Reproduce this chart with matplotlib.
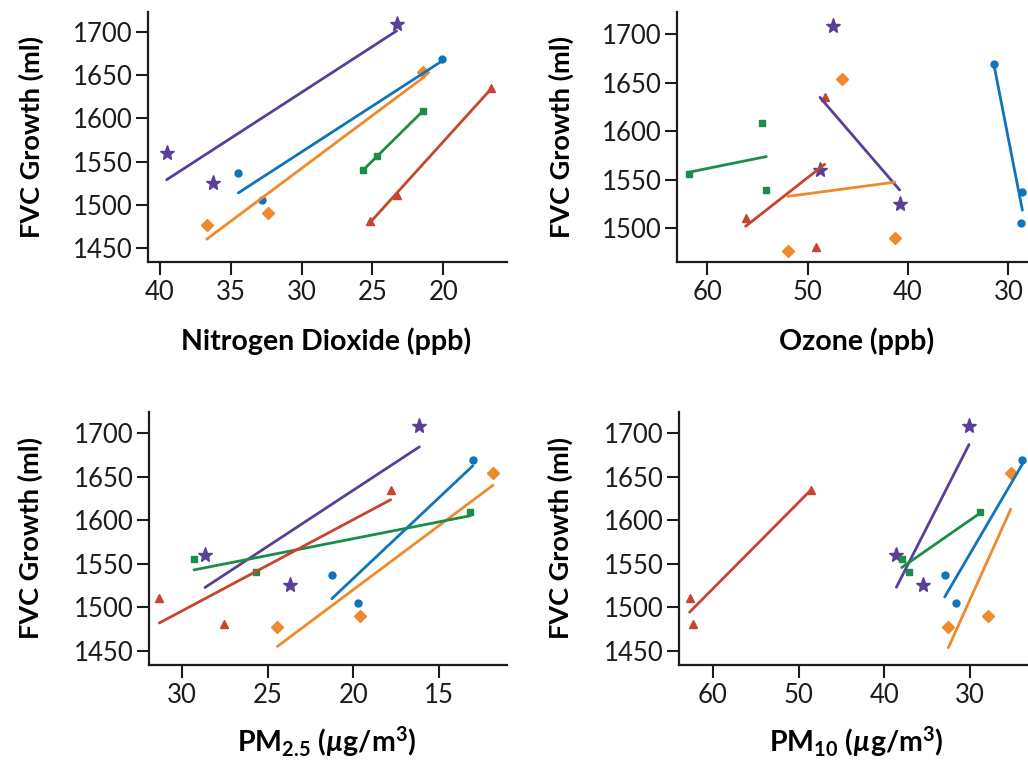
import numpy as np
import matplotlib
matplotlib.use("Agg")
import matplotlib.pyplot as plt

# ---------------- data ----------------
# FVC growth (ml) for the three cohorts of each community
fvc_purple = [1560, 1525, 1709]
fvc_blue = [1537, 1505, 1669]
fvc_orange = [1477, 1490, 1654]
fvc_green = [1556, 1540, 1609]
fvc_red = [1481, 1511, 1635]

# pollutant levels per community (same cohort order as above)
no2_purple = [39.53, 36.24, 23.3]
no2_blue = [34.47, 32.82, 20.12]
no2_orange = [36.7, 32.35, 21.4]
no2_green = [24.7, 25.65, 21.4]
no2_red = [25.18, 23.3, 16.6]

o3_purple = [48.77, 40.83, 47.48]
o3_blue = [28.6, 28.7, 31.43]
o3_orange = [51.96, 41.3, 46.55]
o3_green = [61.83, 54.12, 54.52]
o3_red = [49.2, 56.18, 48.3]

pm25_purple = [28.64, 23.69, 16.16]
pm25_blue = [21.26, 19.71, 13.05]
pm25_orange = [24.43, 19.61, 11.88]
pm25_green = [29.28, 25.67, 13.2]
pm25_red = [27.53, 31.3, 17.83]

pm10_purple = [38.57, 35.42, 30.08]
pm10_blue = [32.92, 31.56, 23.85]
pm10_orange = [32.5, 27.86, 25.2]
pm10_green = [37.95, 37.1, 28.83]
pm10_red = [62.34, 62.73, 48.59]

panel_titles = ["Nitrogen Dioxide (ppb)", "Ozone (ppb)",
                r"PM$_{2.5}$ ($\mathit{µ}$g/m$^{3}$)",
                r"PM$_{10}$ ($\mathit{µ}$g/m$^{3}$)"]
ylabel = "FVC Growth (ml)"
xticks_no2 = [40, 35, 30, 25, 20]
xticks_o3 = [60, 50, 40, 30]
xticks_pm25 = [30, 25, 20, 15]
xticks_pm10 = [60, 50, 40, 30]
yticks_full = [1450, 1500, 1550, 1600, 1650, 1700]
yticks_o3 = [1500, 1550, 1600, 1650, 1700]

# ---------------- style ----------------
TXT = "#1e1b1c"
plt.rcParams["font.family"] = ["Lato", "DejaVu Sans"]
plt.rcParams["mathtext.fontset"] = "custom"
plt.rcParams["mathtext.rm"] = "Lato:bold"
plt.rcParams["mathtext.bf"] = "Lato:bold"
plt.rcParams["mathtext.it"] = "Lato:bold:italic"
plt.rcParams["text.color"] = TXT

colors = {"purple": "#5b3e98", "blue": "#0f74bb", "orange": "#ee8a2c",
          "green": "#1a8d4b", "red": "#c6452f"}
markers = {"purple": ("*", 11), "blue": ("o", 5), "orange": ("D", 6.5),
           "green": ("s", 5), "red": ("^", 6)}
order = ["purple", "blue", "orange", "green", "red"]
fvc = {"purple": fvc_purple, "blue": fvc_blue, "orange": fvc_orange,
       "green": fvc_green, "red": fvc_red}

panels = [
    dict(x={"purple": no2_purple, "blue": no2_blue, "orange": no2_orange,
            "green": no2_green, "red": no2_red},
         pos=[148/1028, 1-262/761, 359/1028, 250/761],
         xlim=(40.85, 15.5), ylim=(1433.8, 1723), xticks=xticks_no2,
         yticks=yticks_full, xl=(0.496, -0.316), yl=(-0.326, 0.5)),
    dict(x={"purple": o3_purple, "blue": o3_blue, "orange": o3_orange,
            "green": o3_green, "red": o3_red},
         pos=[677/1028, 1-262/761, 351/1028, 250/761],
         xlim=(63.02, 28.04), ylim=(1465.3, 1723), xticks=xticks_o3,
         yticks=yticks_o3, xl=(0.511, -0.316), yl=(-0.329, 0.5)),
    dict(x={"purple": pm25_purple, "blue": pm25_blue, "orange": pm25_orange,
            "green": pm25_green, "red": pm25_red},
         pos=[149/1028, 1-665/761, 358/1028, 253.3/761],
         xlim=(31.9, 11.06), ylim=(1433.5, 1724.9), xticks=xticks_pm25,
         yticks=yticks_full, xl=(0.497, -0.304), yl=(-0.332, 0.5)),
    dict(x={"purple": pm10_purple, "blue": pm10_blue, "orange": pm10_orange,
            "green": pm10_green, "red": pm10_red},
         pos=[679/1028, 1-665/761, 349/1028, 253.3/761],
         xlim=(63.97, 23.19), ylim=(1433.5, 1724.9), xticks=xticks_pm10,
         yticks=yticks_full, xl=(0.509, -0.304), yl=(-0.341, 0.5)),
]

fig = plt.figure(figsize=(10.28, 7.61), dpi=100)

for p, title in zip(panels, panel_titles):
    ax = fig.add_axes(p["pos"])
    # points
    for c in order:
        m, ms = markers[c]
        ax.plot(p["x"][c], fvc[c], linestyle="none", marker=m, ms=ms,
                color=colors[c], mec=colors[c], zorder=2)
    # community regression lines over the range of observed exposure
    for c in order:
        xs = np.array(p["x"][c], dtype=float)
        ys = np.array(fvc[c], dtype=float)
        slope, icpt = np.polyfit(xs, ys, 1)
        xr = np.array([xs.min(), xs.max()])
        ax.plot(xr, slope * xr + icpt, color=colors[c], lw=2.0,
                solid_capstyle="round", zorder=3)

    ax.set_xlim(*p["xlim"])
    ax.set_ylim(*p["ylim"])
    ax.set_xticks(p["xticks"])
    ax.set_xticklabels([str(t) for t in p["xticks"]])
    ax.set_yticks(p["yticks"])
    ax.set_yticklabels([str(t) for t in p["yticks"]])
    for s in ["top", "right"]:
        ax.spines[s].set_visible(False)
    for s in ["left", "bottom"]:
        ax.spines[s].set_linewidth(1.6)
        ax.spines[s].set_color(TXT)
    ax.tick_params(axis="both", direction="out", length=9, width=1.5,
                   color=TXT, labelsize=18.5, labelcolor=TXT)
    ax.tick_params(axis="y", pad=2)
    ax.tick_params(axis="x", pad=4)
    ax.set_xlabel(title, fontsize=20.5, fontweight="bold", va="center")
    ax.xaxis.set_label_coords(*p["xl"])
    ax.set_ylabel(ylabel, fontsize=19.5, fontweight="bold", va="center")
    ax.yaxis.set_label_coords(*p["yl"])

fig.savefig("out.png", dpi=100)
